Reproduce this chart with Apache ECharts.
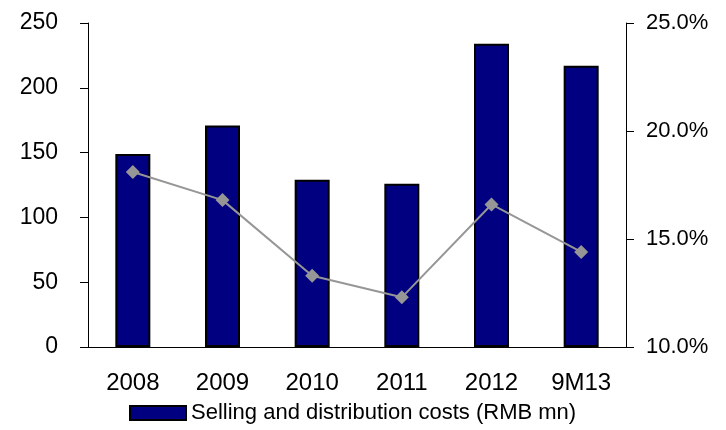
<!DOCTYPE html>
<html>
<head>
    <meta charset="utf-8">
    <title>Selling and distribution costs</title>
    <script src="https://cdn.jsdelivr.net/npm/echarts@6/dist/echarts.min.js"></script>
</head>
<body style="margin:0;background:#fff">
    <div id="main" style="width:726px;height:430px;"></div>
    <script type="text/javascript">
        // data
        var years = ['2008', '2009', '2010', '2011', '2012', '9M13'];
        var costs = [149, 171, 129, 126, 234, 217];          // RMB mn, left axis
        var costRatio = [18.1, 16.8, 13.3, 12.3, 16.6, 14.4]; // %, right axis

        var myChart = echarts.init(document.getElementById('main'));
        var font = 'Liberation Sans, Arial, sans-serif';

        var option = {
            animation: false,
            grid: { left: 88, right: 100, top: 23, bottom: 83 },
            // only the bar series shows in the legend
            legend: {
                data: [{ name: 'Selling and distribution costs (RMB mn)', icon: 'rect' }],
                bottom: 1,
                left: 124,
                itemWidth: 56,
                itemHeight: 14,
                itemGap: 2,
                textStyle: { fontFamily: font, fontSize: 22, color: '#000' }
            },
            xAxis: {
                type: 'category',
                data: years,
                axisLine: { lineStyle: { color: '#000', width: 1 } },
                axisTick: { inside: true, length: 8, lineStyle: { color: '#000' } },
                axisLabel: { fontFamily: font, fontSize: 24, color: '#000', margin: 24 }
            },
            yAxis: [
                {
                    type: 'value',
                    min: 0, max: 250, interval: 50,
                    splitLine: { show: false },
                    axisLine: { show: true, lineStyle: { color: '#000' } },
                    axisTick: { show: true, length: 8, lineStyle: { color: '#000' } },
                    axisLabel: { fontFamily: font, fontSize: 23, color: '#000', margin: 30 }
                },
                {
                    type: 'value',
                    min: 10, max: 25, interval: 5,
                    splitLine: { show: false },
                    axisLine: { show: true, lineStyle: { color: '#000' } },
                    axisTick: { show: true, length: 8, lineStyle: { color: '#000' } },
                    axisLabel: {
                        fontFamily: font, fontSize: 22, color: '#000', margin: 20,
                        formatter: function (v) { return v.toFixed(1) + '%'; }
                    }
                }
            ],
            series: [
                {
                    name: 'Selling and distribution costs (RMB mn)',
                    type: 'bar',
                    data: costs,
                    barWidth: 35,
                    itemStyle: { color: '#000080', borderColor: '#000', borderWidth: 2 }
                },
                {
                    name: 'S&D costs / revenue',
                    type: 'line',
                    yAxisIndex: 1,
                    data: costRatio,
                    symbol: 'diamond',
                    symbolSize: 14,
                    lineStyle: { color: '#969696', width: 2 },
                    itemStyle: { color: '#969696' }
                }
            ]
        };

        myChart.setOption(option);
    </script>
</body>
</html>
